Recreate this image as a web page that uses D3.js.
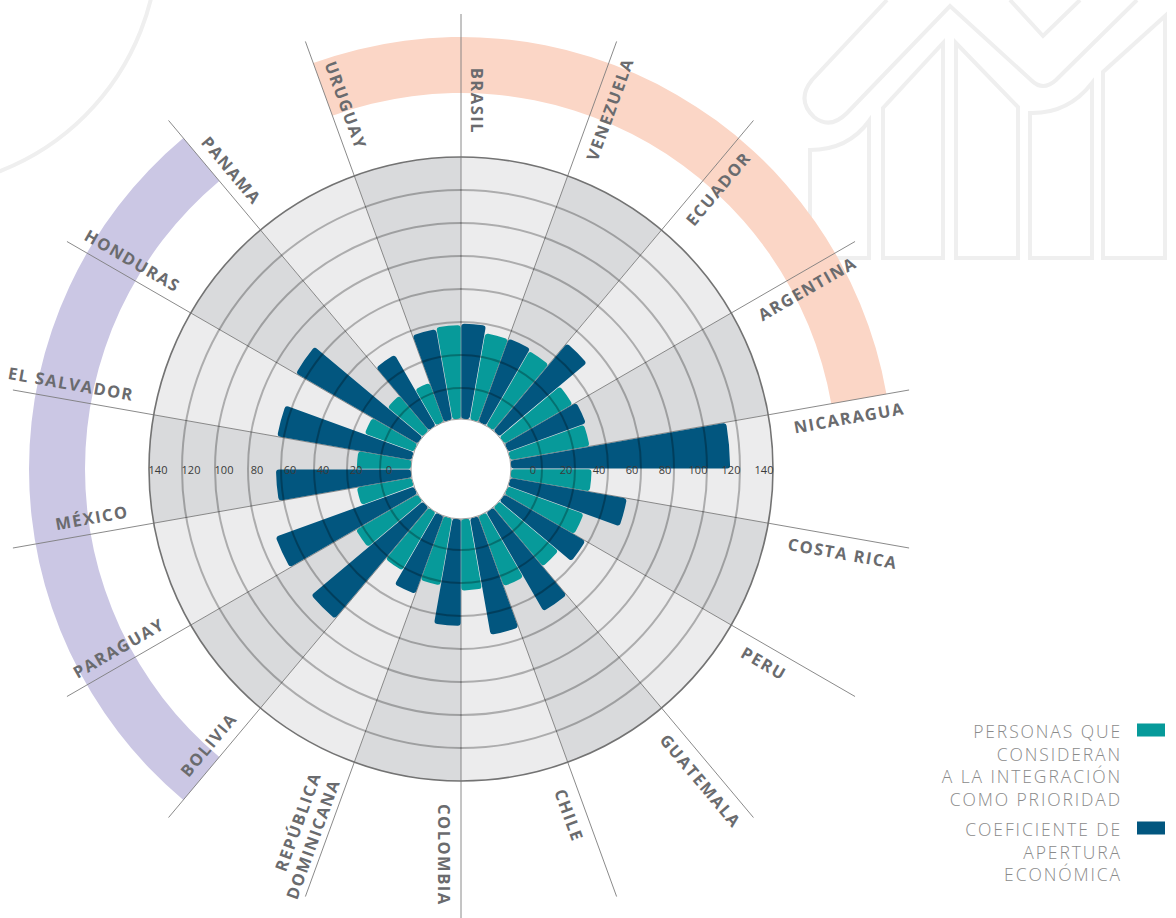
<!DOCTYPE html>
<html>
<head>
<meta charset="utf-8">
<script src="https://cdn.jsdelivr.net/npm/d3@7"></script>
<style>
  body { margin: 0; background: #fff; }
  svg { display: block; }
</style>
</head>
<body>
<div id="chart"></div>
<script>
// countries clockwise from the top
const countries = ["BRASIL", "VENEZUELA", "ECUADOR", "ARGENTINA", "NICARAGUA", "COSTA RICA", "PERU", "GUATEMALA",
  "CHILE", "COLOMBIA", "REPÚBLICA DOMINICANA", "BOLIVIA", "PARAGUAY", "MÉXICO", "EL SALVADOR", "HONDURAS", "PANAMA", "URUGUAY"];
const apertura = [39, 35, 50.5, 31.5, 114, 53, 38, 50.5, 53, 46, 31.5, 69.5, 70.5, 63, 64, 66.5, 31, 37];
const integracion = [34.5, 33.5, 29, 30, 30, 30, 28, 26.5, 24.5, 22.5, 22, 24.5, 15, 14, 13, 9, 6.5, 38];
const radialTicks = [0, 20, 40, 60, 80, 100, 120, 140];
const bandSur = ["URUGUAY", "BRASIL", "VENEZUELA", "ECUADOR", "ARGENTINA"];
const bandCentro = ["BOLIVIA", "PARAGUAY", "MÉXICO", "EL SALVADOR", "HONDURAS"];
const legendItems = [
  { key: "integracion", lines: ["PERSONAS QUE", "CONSIDERAN", "A LA INTEGRACIÓN", "COMO PRIORIDAD"] },
  { key: "apertura", lines: ["COEFICIENTE DE", "APERTURA", "ECONÓMICA"] }
];

const W = 1176, H = 918, cx = 461, cy = 469;
const innerR = 50, labelR = 335, spokeR = 455;
const color = { apertura: "#02567f", integracion: "#079a9a" };

const svg = d3.select("#chart").append("svg")
  .attr("width", W)
  .attr("height", H);

// faint background marks
const deco = svg.append("g").attr("fill", "none").attr("stroke", "#efefef").attr("stroke-width", 4);
deco.append("circle").attr("cx", -90).attr("cy", -60).attr("r", 248);
[
  "M887,0 L812,80 Q796,100 814,117 Q830,130 847,113 L950,6 L1031,80 Q1043,92 1056,80 L1137,0",
  "M1010,0 L1043,36 L1080,0",
  "M810,258 V150 Q848,150 869,121 V258 Z",
  "M883,258 V108 L943,43 V258 Z",
  "M956,258 V43 L1018,107 V258 Z",
  "M1030,258 V113 Q1068,114 1092,83 V258 Z",
  "M1103,258 V72 L1165,16 V258 Z"
].forEach(d => deco.append("path").attr("d", d));

const angle = d3.scaleBand().domain(countries).range([0, 2 * Math.PI]);
const sub = d3.scaleBand().domain(["apertura", "integracion"]).range([0, angle.bandwidth()]);
const r = d3.scaleLinear().domain([0, 140]).range([81, 312]);

const g = svg.append("g").attr("transform", `translate(${cx},${cy})`);

// colored group bands
const bandArc = d3.arc().innerRadius(376).outerRadius(432);
[[bandSur, "#fbd6c6"], [bandCentro, "#cbc7e4"]].forEach(([list, fill]) => {
  let a0 = angle(list[0]);
  const a1 = angle(list[list.length - 1]) + angle.bandwidth();
  if (a1 < a0) a0 -= 2 * Math.PI;
  g.append("path").attr("d", bandArc({ startAngle: a0, endAngle: a1 })).attr("fill", fill);
});

// sector backgrounds
const sectorArc = d3.arc().innerRadius(innerR).outerRadius(r(140));
g.selectAll(".sector")
  .data(countries)
  .enter()
  .append("path")
  .attr("class", "sector")
  .attr("d", c => sectorArc({ startAngle: angle(c), endAngle: angle(c) + angle.bandwidth() }))
  .attr("fill", (c, i) => i % 2 ? "#d9dadc" : "#ececed");

// spokes
g.selectAll(".spoke")
  .data(countries)
  .enter()
  .append("line")
  .attr("class", "spoke")
  .attr("x1", c => innerR * Math.sin(angle(c)))
  .attr("y1", c => -innerR * Math.cos(angle(c)))
  .attr("x2", c => spokeR * Math.sin(angle(c)))
  .attr("y2", c => -spokeR * Math.cos(angle(c)))
  .attr("stroke", "#7d7d7d")
  .attr("stroke-width", 0.9);

// bars
const bars = countries.flatMap((c, i) => [
  { c, key: "apertura", v: apertura[i] },
  { c, key: "integracion", v: integracion[i] }
]);
const barArc = d3.arc()
  .innerRadius(innerR)
  .outerRadius(d => r(d.v))
  .startAngle(d => angle(d.c) + sub(d.key))
  .endAngle(d => angle(d.c) + sub(d.key) + sub.bandwidth())
  .padAngle(0.004)
  .cornerRadius(3);
g.selectAll(".bar")
  .data(bars)
  .enter()
  .append("path")
  .attr("class", "bar")
  .attr("d", barArc)
  .attr("fill", d => color[d.key]);

// rings
g.selectAll(".ring")
  .data(radialTicks.slice(0, -1))
  .enter()
  .append("circle")
  .attr("class", "ring")
  .attr("r", d => r(d))
  .attr("fill", "none")
  .attr("stroke", "#000")
  .attr("stroke-opacity", 0.27)
  .attr("stroke-width", 2);
g.append("circle")
  .attr("r", r(140))
  .attr("fill", "none")
  .attr("stroke", "#737373")
  .attr("stroke-width", 1.6);
g.append("circle")
  .attr("r", innerR)
  .attr("fill", "#fff")
  .attr("stroke", "#9a9a9a")
  .attr("stroke-width", 1);

// radial tick labels, both sides
[-1, 1].forEach(side => {
  g.selectAll(".tick" + (side > 0 ? "R" : "L"))
    .data(radialTicks)
    .enter()
    .append("text")
    .attr("x", d => side * (r(d) - 9))
    .attr("y", 0)
    .attr("text-anchor", "middle")
    .attr("dominant-baseline", "central")
    .attr("font-family", "Open Sans, sans-serif")
    .attr("font-size", 11)
    .attr("fill", "#3a3a3a")
    .text(d => d);
});

// country labels along the spokes, on the clockwise side
countries.forEach(c => {
  const b = angle(c) * 180 / Math.PI;
  const right = b > 0 && b <= 180;
  const lines = c === "REPÚBLICA DOMINICANA" ? ["REPÚBLICA", "DOMINICANA"] : [c];
  const base = lines.length > 1 ? 13 : 16.5;
  const lg = g.append("g").attr("transform", `rotate(${right ? b - 90 : b + 90})`);
  lines.forEach((t, j) => {
    const off = right ? base + j * 20 : -(base + (lines.length - 1 - j) * 20);
    lg.append("text")
      .attr("x", right ? labelR : -labelR)
      .attr("y", off)
      .attr("text-anchor", right ? "start" : "end")
      .attr("dominant-baseline", "central")
      .attr("font-family", "Open Sans, sans-serif")
      .attr("font-weight", 700)
      .attr("font-size", 16.5)
      .attr("letter-spacing", 1.5)
      .attr("fill", "#6a6b6e")
      .text(t);
  });
});

// legend
const legend = svg.append("g");
const lineH = 22.5;
let ly = 738;
legendItems.forEach(item => {
  legend.append("rect")
    .attr("x", 1137)
    .attr("y", ly - 14.5)
    .attr("width", 28)
    .attr("height", 13)
    .attr("fill", color[item.key]);
  item.lines.forEach((t, j) => {
    legend.append("text")
      .attr("x", 1122)
      .attr("y", ly + j * lineH)
      .attr("text-anchor", "end")
      .attr("font-family", "Open Sans, sans-serif")
      .attr("font-weight", 300)
      .attr("font-size", 17.5)
      .attr("letter-spacing", 1.9)
      .attr("fill", "#8a8a8a")
      .text(t);
  });
  ly += (item.lines.length - 1) * lineH + 30.5;
});
</script>
</body>
</html>
